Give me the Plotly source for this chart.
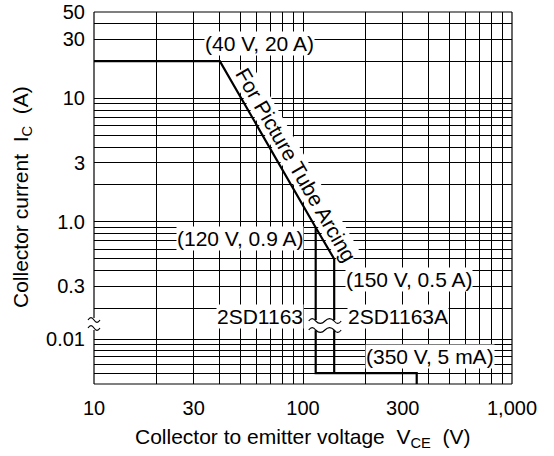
import numpy as np
import plotly.graph_objects as go

# ---------------- data ----------------
# 2SD1163 limit, upper (A) section
vce_1163_hi = [10, 40, 115, 115]
ic_1163_hi = [20, 20, 0.9, 0.16]
# 2SD1163A extension, upper section
vce_1163a_hi = [115, 141, 141]
ic_1163a_hi = [0.9, 0.5, 0.16]
# lower (mA) section
vce_1163_lo = [115, 115, 350, 350]
ic_1163_lo = [0.0121, 0.005, 0.005, 0.004]
vce_1163a_lo = [141, 141]
ic_1163a_lo = [0.0121, 0.005]

x_grid = [10, 20, 30, 40, 50, 60, 70, 80, 90,
          100, 200, 300, 400, 500, 600, 700, 800, 900, 1000]
x_tick_text = {10: "10", 30: "30", 100: "100", 300: "300", 1000: "1,000"}
y_grid_hi = [0.2, 0.3, 0.4, 0.5, 0.6, 0.7, 0.8, 0.9,
             1, 2, 3, 4, 5, 6, 7, 8, 9, 10, 20, 30, 40, 50]
y_tick_text_hi = {50: "50", 30: "30", 10: "10", 3: "3", 1: "1.0", 0.3: "0.3"}
y_grid_lo = [0.005, 0.006, 0.007, 0.008, 0.009, 0.01]
y_tick_text_lo = {0.01: "0.01"}

y_range_hi = [np.log10(0.1433), np.log10(50)]
y_range_lo = [np.log10(0.004), np.log10(0.004) + 0.518]
x_range = [1, 3]

FONT = "Liberation Sans, Arial, sans-serif"
W, H = 554, 456
ML, MR, MT, MB = 94, 42, 12, 72
PW, PH = W - ML - MR, H - MT - MB
PL, PB = ML, MT + PH   # plot-area left / bottom in page pixels
split = 58 / PH  # lower domain height fraction

def px_x(p):  # page pixel -> paper x
    return (p - PL) / PW

def px_y(p):  # page pixel -> paper y
    return (PB - p) / PH

def paper_from_vce(v):
    return (np.log10(v) - x_range[0]) / (x_range[1] - x_range[0])

fig = go.Figure()
line = dict(color="black", width=2.2)
fig.add_trace(go.Scatter(x=vce_1163_hi, y=ic_1163_hi, mode="lines", line=line,
                         xaxis="x", yaxis="y", showlegend=False, hoverinfo="skip"))
fig.add_trace(go.Scatter(x=vce_1163a_hi, y=ic_1163a_hi, mode="lines", line=line,
                         xaxis="x", yaxis="y", showlegend=False, hoverinfo="skip"))
fig.add_trace(go.Scatter(x=vce_1163_lo, y=ic_1163_lo, mode="lines", line=line,
                         xaxis="x", yaxis="y2", showlegend=False, hoverinfo="skip"))
fig.add_trace(go.Scatter(x=vce_1163a_lo, y=ic_1163a_lo, mode="lines", line=line,
                         xaxis="x", yaxis="y2", showlegend=False, hoverinfo="skip"))

grid = dict(showgrid=True, gridcolor="black", gridwidth=1, zeroline=False,
            showline=False, ticks="", automargin=False, ticklabeloverflow="allow",
            tickfont=dict(family=FONT, size=20, color="black"))

fig.update_layout(
    width=W, height=H,
    margin=dict(l=ML, r=MR, t=MT, b=MB, autoexpand=False),
    paper_bgcolor="white", plot_bgcolor="white",
    font=dict(family=FONT, color="black"),
    xaxis=dict(type="log", range=x_range, anchor="y2", domain=[0, 1],
               tickmode="array", tickvals=x_grid,
               ticktext=[x_tick_text.get(v, "") for v in x_grid],
               ticklabelstandoff=10, **grid),
    yaxis=dict(type="log", range=y_range_hi, domain=[split, 1], anchor="x",
               tickmode="array", tickvals=y_grid_hi,
               ticktext=[y_tick_text_hi.get(v, "") for v in y_grid_hi],
               ticklabelstandoff=8, **grid),
    yaxis2=dict(type="log", range=y_range_lo, domain=[0, split], anchor="x",
                tickmode="array", tickvals=y_grid_lo,
                ticktext=[y_tick_text_lo.get(v, "") for v in y_grid_lo],
                ticklabelstandoff=8, **grid),
)

# ---------------- frame and break marks ----------------
shapes = []
fl = dict(color="black", width=1.2)
shapes.append(dict(type="line", xref="paper", yref="paper", x0=0, x1=1, y0=1, y1=1, line=fl))
shapes.append(dict(type="line", xref="paper", yref="paper", x0=0, x1=1, y0=0, y1=0, line=fl))
shapes.append(dict(type="line", xref="paper", yref="paper", x0=1, x1=1, y0=0, y1=1, line=fl))
shapes.append(dict(type="line", xref="paper", yref="paper", x0=0, x1=0, y0=px_y(318), y1=1, line=fl))
shapes.append(dict(type="line", xref="paper", yref="paper", x0=0, x1=0, y0=0, y1=px_y(330), line=fl))

def wave(xs_px, y_px, amp):
    d = f"M {px_x(xs_px[0])},{px_y(y_px)}"
    for i in range(1, len(xs_px)):
        xa, xb = xs_px[i - 1], xs_px[i]
        sgn = 1 if i % 2 else -1
        c1 = (xa + (xb - xa) / 3, y_px - sgn * amp * 2)
        c2 = (xa + 2 * (xb - xa) / 3, y_px - sgn * amp * 2)
        d += f" C {px_x(c1[0])},{px_y(c1[1])} {px_x(c2[0])},{px_y(c2[1])} {px_x(xb)},{px_y(y_px)}"
    return d

for yy in (320, 328):
    shapes.append(dict(type="path", xref="paper", yref="paper",
                       path=wave([88, 94, 100], yy, 1.6), line=dict(color="black", width=1.1)))

xa_px = PL + paper_from_vce(vce_1163_lo[0]) * PW
xb_px = PL + paper_from_vce(vce_1163a_lo[0]) * PW
for yy in (321, 330):
    shapes.append(dict(type="path", xref="paper", yref="paper",
                       path=wave([xa_px - 7, xa_px, (xa_px + xb_px) / 2, xb_px, xb_px + 7], yy, 1.6),
                       line=dict(color="black", width=1.1)))
fig.update_layout(shapes=shapes)

# ---------------- annotations ----------------
afont = dict(family=FONT, size=21, color="black")
def ann(text, x, y, yref="y", **kw):
    base = dict(text=text, showarrow=False, font=afont, bgcolor="white", borderpad=0,
                xref="x", yref=yref, x=np.log10(x),
                y=(np.log10(y) if yref != "paper" else y))
    base.update(kw)
    return base

annotations = [
    ann("(40 V, 20 A)", 40, 20, xanchor="center", yanchor="middle", xshift=40, yshift=18),
    ann("(120 V, 0.9 A)", 115, 0.9, xanchor="right", yanchor="middle", xshift=-12, yshift=-11),
    ann("(150 V, 0.5 A)", 141, 0.5, xanchor="left", yanchor="middle", xshift=11, yshift=-21),
    ann("2SD1163", 115, px_y(316.5), yref="paper", xanchor="right", yanchor="middle", xshift=-12),
    ann("2SD1163A", 141, px_y(316.5), yref="paper", xanchor="left", yanchor="middle", xshift=13),
    ann("(350 V, 5 mA)", 350, 0.005, yref="y2", xanchor="center", yanchor="middle", xshift=13, yshift=17),
    ann("For Picture Tube Arcing", np.sqrt(40 * 141), np.sqrt(20 * 0.5),
        xanchor="center", yanchor="middle", textangle=60, xshift=19, yshift=-4),
    dict(text="Collector current\u00a0\u00a0I<sub>C</sub>\u00a0\u00a0(A)", showarrow=False,
         xref="paper", yref="paper", x=0, y=px_y(197), xanchor="center", yanchor="middle",
         xshift=22 - PL, textangle=-90, font=afont),
    dict(text="Collector to emitter voltage\u00a0\u00a0V<sub>CE</sub>\u00a0\u00a0(V)", showarrow=False,
         xref="paper", yref="paper", x=0.5, y=0, xanchor="center", yanchor="middle",
         yshift=-(438 - PB), font=afont),
]
fig.update_layout(annotations=annotations)

# remove the browser's default 8px body margin so the figure fills the window
fig.write_html("out.html", config={"displayModeBar": False},
               post_script="document.body.style.margin='0';")
